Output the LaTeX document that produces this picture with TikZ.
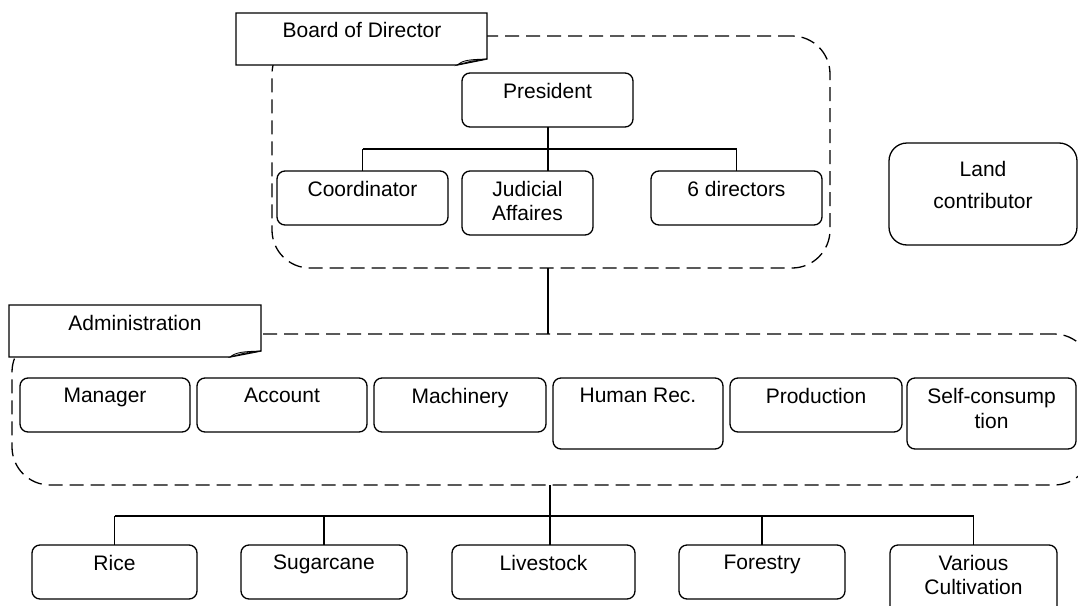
\documentclass[tikz,border=0pt]{standalone}
\usepackage{fontspec}
\setmainfont{Liberation Sans}
\begin{document}
\begin{tikzpicture}[x=1pt,y=-1pt,
  every node/.style={inner sep=0pt, outer sep=0pt},
  obox/.style={draw, line width=1.3pt, rounded corners=8pt, anchor=north west, fill=white},
  otext/.style={anchor=north, align=center, font=\fontsize{21}{24}\selectfont},
  group/.style={draw, line width=1.3pt, dash pattern=on 14pt off 7pt, rounded corners=38pt, anchor=north west},
  tag/.style={draw, line width=1.3pt, fill=white, line join=miter},
  link/.style={draw, line width=1.3pt}]
\useasboundingbox (0,0) rectangle (1078,605);
\clip (0,0) rectangle (1078,605);

% box macro: name, x1, y1, x2, y2, text (pixel-style coordinates, y downwards)
\newcommand\orgbox[6]{%
  \node[obox, minimum width={#4-#2}, minimum height={#5-#3}] (#1) at (#2,#3) {};
  \node[otext] (#1-t) at ([yshift=-10pt]#1.north) {#6};}

% dashed groups
\node[group, minimum width=558, minimum height=232] (board) at (272,36) {};
\node[group, minimum width=1080, minimum height=151] (admin) at (12,334) {};

% group tags with folded corner
\path[tag] (236,13) -- (487,13) -- (487,59) -- (457,65) -- (236,65) -- cycle;
\path[draw, line width=0.8pt, fill=black!15] (457,65) .. controls (463,60) and (470,59.5) .. (487,59) -- (470,61.5) -- cycle;
\node[otext] (board-t) at (362,22) {Board of Director};

\path[tag] (9,305) -- (261,305) -- (261,351) -- (230,357) -- (9,357) -- cycle;
\path[draw, line width=0.8pt, fill=black!15] (230,357) .. controls (236,352) and (244,351.5) .. (261,351) -- (243,353.5) -- cycle;
\node[otext] (admin-t) at (135,315) {Administration};

% board members
\orgbox{pres}{462}{73}{633}{127}{President}
\orgbox{coord}{277}{171}{448}{225}{Coordinator}
\orgbox{jud}{462}{171}{593}{235}{Judicial\\Affaires}
\orgbox{dirs}{651}{171}{822}{225}{6 directors}

% independent box
\node[obox, rounded corners=18pt, minimum width=188, minimum height=102] (land) at (889,143) {};
\node[otext] (land-t) at ([yshift=-18pt]land.north) {Land\\[8pt]contributor};

% administration units
\orgbox{man}{20}{378}{190}{432}{Manager}
\orgbox{acc}{197}{378}{367}{432}{Account}
\orgbox{mach}{374}{378}{546}{432}{Machinery}
\orgbox{hr}{553}{378}{723}{449}{Human Rec.}
\orgbox{prod}{730}{378}{902}{432}{Production}
\orgbox{self}{907}{378}{1076}{449}{Self-consump\\[1pt]tion}

% productions
\orgbox{rice}{32}{545}{197}{599}{Rice}
\orgbox{sugar}{241}{545}{407}{599}{Sugarcane}
\orgbox{live}{452}{545}{635}{599}{Livestock}
\orgbox{forest}{679}{545}{845}{599}{Forestry}
\orgbox{var}{890}{545}{1057}{614}{Various\\Cultivation}

% connectors inside the board
\coordinate (bbus) at (548,149);
\path[link] (pres.south -| bbus) -- (bbus);
\path[link] (coord.north |- bbus) -- (dirs.north |- bbus);
\path[link] (coord.north |- bbus) -- (coord.north);
\path[link] (bbus) -- (jud.north -| bbus);
\path[link] (dirs.north |- bbus) -- (dirs.north);

% board to administration
\path[link] (board.south -| bbus) -- (admin.north -| bbus);

% administration to productions
\coordinate (pbus) at (550,516);
\path[draw, line width=2pt] (admin.south -| pbus) -- (pbus);
\path[link] (rice.north |- pbus) -- (var.north |- pbus);
\path[link] (rice.north |- pbus) -- (rice.north);
\path[link] (sugar.north |- pbus) -- (sugar.north);
\path[link] (pbus) -- (live.north -| pbus);
\path[link] (forest.north |- pbus) -- (forest.north);
\path[link] (var.north |- pbus) -- (var.north);
\end{tikzpicture}
\end{document}
